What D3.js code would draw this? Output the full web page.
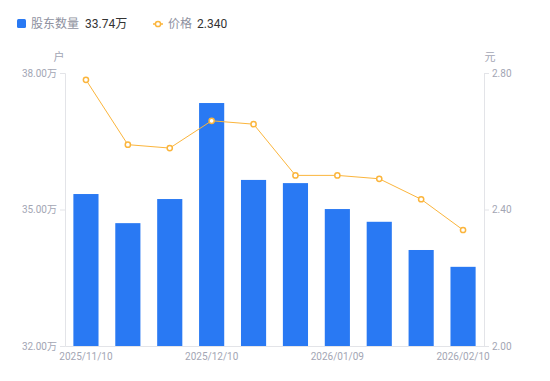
<!DOCTYPE html>
<html><head><meta charset="utf-8">
<script src="https://cdn.jsdelivr.net/npm/d3@7/dist/d3.min.js"></script>
<style>body{margin:0;background:#fff;font-family:"Noto Sans CJK SC","Noto Sans",sans-serif;}</style>
</head><body><svg id="c" width="550" height="381"></svg>
<script>
const dates = ["2025/11/10","2025/11/20","2025/11/30","2025/12/10","2025/12/20","2025/12/31","2026/01/09","2026/01/20","2026/01/31","2026/02/10"];
const holders = [35.34,34.70,35.23,37.34,35.65,35.58,35.01,34.73,34.11,33.74];
const prices = [2.78,2.59,2.58,2.66,2.65,2.50,2.50,2.49,2.43,2.34];
const leftTicks = [32,35,38];
const rightTicks = [2.0,2.4,2.8];

const svg = d3.select("#c");
const L=65,R=484,T=73,B=346;
const x = d3.scaleBand().domain(dates).range([L,R]).paddingInner(0.4).paddingOuter(0.2);
const xc = d3.scaleBand().domain(dates).range([L,R]);
const yL = d3.scaleLinear().domain([32,38]).range([B,T]);
const yR = d3.scaleLinear().domain([2.0,2.8]).range([B,T]);
const axisCol="#e3e4e8", txtCol="#a3a6b4";

// axes
const gl = svg.append("g").attr("transform",`translate(${L},0)`)
 .call(d3.axisLeft(yL).tickValues(leftTicks).tickSize(5).tickPadding(3).tickFormat(d=>d3.format(".2f")(d)+"万"));
const gr = svg.append("g").attr("transform",`translate(${R},0)`)
 .call(d3.axisRight(yR).tickValues(rightTicks).tickSize(5).tickPadding(3).tickFormat(d3.format(".2f")));
[gl,gr].forEach(g=>{g.select(".domain").attr("stroke",axisCol);g.selectAll(".tick line").attr("stroke",axisCol);
 g.selectAll("text").attr("fill",txtCol).style("font-size","10px").style("font-family","Roboto,'Noto Sans CJK SC',sans-serif");});
const gx = svg.append("g").attr("transform",`translate(0,${B})`)
 .call(d3.axisBottom(xc).tickValues(dates.filter((d,i)=>i%3===0)).tickSize(0).tickPadding(7));
gx.select(".domain").attr("stroke",axisCol);
gx.selectAll("text").attr("fill",txtCol).style("font-size","10px").style("font-family","Roboto,sans-serif");

// unit labels
svg.append("text").attr("x",59).attr("y",61).attr("text-anchor","middle").attr("fill",txtCol).style("font-size","11px").text("户");
svg.append("text").attr("x",490).attr("y",61).attr("text-anchor","middle").attr("fill",txtCol).style("font-size","11px").text("元");

// bars
svg.append("g").selectAll("rect").data(holders).join("rect")
 .attr("x",(d,i)=>x(dates[i])).attr("width",x.bandwidth())
 .attr("y",d=>yL(d)).attr("height",d=>B-yL(d)).attr("fill","#2979f3");

// line
const line = d3.line().x((d,i)=>xc(dates[i])+xc.bandwidth()/2).y(d=>yR(d));
svg.append("path").datum(prices).attr("d",line).attr("fill","none").attr("stroke","#fbb53c").attr("stroke-width",1);
svg.append("g").selectAll("circle").data(prices).join("circle")
 .attr("cx",(d,i)=>xc(dates[i])+xc.bandwidth()/2).attr("cy",d=>yR(d)).attr("r",2.6)
 .attr("fill","#fff").attr("stroke","#fbb53c").attr("stroke-width",1.5);

// legend
const lg = svg.append("g").style("font-size","12px");
lg.append("rect").attr("x",17).attr("y",19).attr("width",9).attr("height",9).attr("rx",1.5).attr("fill","#2979f3");
lg.append("text").attr("x",31).attr("y",28).attr("fill","#8e91a0").text("股东数量");
lg.append("text").attr("x",85).attr("y",28).attr("fill","#333").style("font-family","Roboto,'Noto Sans CJK SC',sans-serif").text(d3.format(".2f")(holders[holders.length-1])+"万");
lg.append("line").attr("x1",153).attr("x2",163).attr("y1",24).attr("y2",24).attr("stroke","#fbb53c").attr("stroke-width",1.5);
lg.append("circle").attr("cx",158).attr("cy",24).attr("r",2.6).attr("fill","#fff").attr("stroke","#fbb53c").attr("stroke-width",1.5);
lg.append("text").attr("x",168).attr("y",28).attr("fill","#8e91a0").text("价格");
lg.append("text").attr("x",197).attr("y",28).attr("fill","#333").style("font-family","Roboto,sans-serif").text(d3.format(".3f")(prices[prices.length-1]));
</script></body></html>
